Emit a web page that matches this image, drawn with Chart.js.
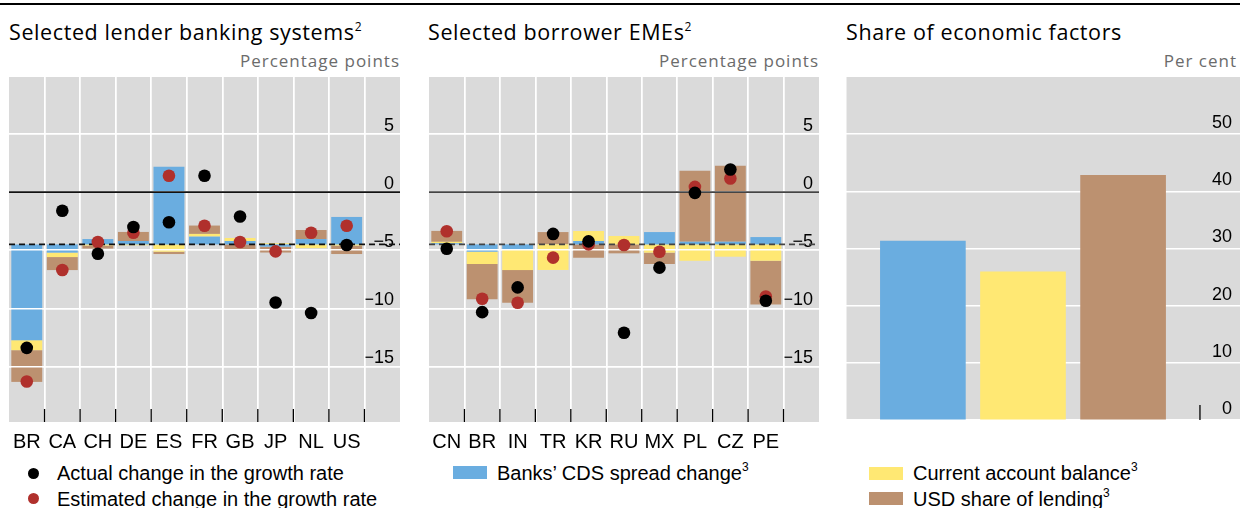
<!DOCTYPE html>
<html>
<head>
<meta charset="utf-8">
<script src="https://cdn.jsdelivr.net/npm/chart.js@4/dist/chart.umd.min.js"></script>
<style>
  body { margin: 0; width: 1240px; height: 508px; background: #fff; position: relative; overflow: hidden; font-family: "Liberation Sans", Arial, sans-serif; }
  .rule { position: absolute; left: 0; top: 2.5px; width: 1240px; height: 2px; background: #000; }
  .title { position: absolute; top: 20.8px; font: 21.5px/21.5px "Open Sans", sans-serif; letter-spacing: 0.6px; color: #000; white-space: nowrap; }
  .unit { position: absolute; top: 51.8px; font: 17px/17px "Open Sans", sans-serif; letter-spacing: 1px; color: #6b6b6b; white-space: nowrap; text-align: right; }
  sup { font-size: 12px; line-height: 0; vertical-align: 9px; letter-spacing: 0; }
  .leg { position: absolute; font-size: 20px; line-height: 20px; color: #000; white-space: nowrap; }
  .leg sup { font-size: 12px; vertical-align: 9px; }
  .dot { position: absolute; width: 11px; height: 11px; border-radius: 50%; }
  .box { position: absolute; width: 34px; height: 13px; }
  canvas { position: absolute; }
</style>
</head>
<body>
<div class="rule"></div>

<div class="title" style="left:9px">Selected lender banking systems<sup>2</sup></div>
<div class="title" style="left:428px">Selected borrower EMEs<sup>2</sup></div>
<div class="title" style="left:846px">Share of economic factors</div>
<div class="unit" style="right:840px">Percentage points</div>
<div class="unit" style="right:421px">Percentage points</div>
<div class="unit" style="right:3px">Per cent</div>

<canvas id="lenders" width="391" height="380" style="left:9px;top:77px"></canvas>
<canvas id="borrowers" width="390" height="380" style="left:429px;top:77px"></canvas>
<canvas id="shares" width="394" height="343" style="left:846px;top:77px"></canvas>

<div class="dot" style="left:27.5px;top:467.5px;background:#000"></div>
<div class="leg" style="left:57px;top:463.2px">Actual change in the growth rate</div>
<div class="dot" style="left:27.5px;top:493px;background:#b0302c"></div>
<div class="leg" style="left:57px;top:488.7px">Estimated change in the growth rate</div>

<div class="box" style="left:453px;top:466px;background:#6aade0"></div>
<div class="leg" style="left:497px;top:462.5px">Banks’ CDS spread change<sup>3</sup></div>

<div class="box" style="left:869px;top:466.5px;background:#ffe873"></div>
<div class="leg" style="left:913px;top:463.2px">Current account balance<sup>3</sup></div>
<div class="box" style="left:869px;top:492px;background:#bc9170"></div>
<div class="leg" style="left:913px;top:488.7px">USD share of lending<sup>3</sup></div>

<script>
// lender banking systems (percentage points)
const lenderCats = ['BR', 'CA', 'CH', 'DE', 'ES', 'FR', 'GB', 'JP', 'NL', 'US'];
const lenderCds = [-8.24, -0.71, 0.46, 0.29, 6.67, 0.67, 0.29, -0.2, 0.46, 2.36];
const lenderCa = [-0.86, -0.38, -0.1, -0.08, -0.63, 0.23, 0.26, 0.1, -0.32, -0.1];
const lenderUsd = [-2.73, -1.12, -0.26, 0.78, -0.2, 0.72, -0.4, -0.5, 0.78, -0.73];
const lenderActual = [-13.4, -1.6, -5.3, -3.0, -2.6, 1.4, -2.1, -9.5, -10.4, -4.55];
const lenderEstimated = [-16.3, -6.7, -4.3, -3.5, 1.4, -2.9, -4.3, -5.1, -3.5, -2.9];

// borrower EMEs (percentage points)
const borrowerCats = ['CN', 'BR', 'IN', 'TR', 'KR', 'RU', 'MX', 'PL', 'CZ', 'PE'];
const borrowerCds = [0.1, -0.63, -0.48, 0, 0.29, 0, 1.06, 0.23, 0.23, 0.63];
const borrowerCa = [0.12, -1.06, -1.73, -2.2, 0.86, 0.72, -0.71, -1.41, -1.06, -1.41];
const borrowerUsd = [0.94, -3.02, -2.82, 1.06, -1.15, -0.77, -0.98, 6.1, 6.53, -3.77];
const borrowerActual = [-4.87, -10.33, -8.2, -3.6, -4.24, -12.1, -6.5, -0.07, 1.94, -9.35];
const borrowerEstimated = [-3.37, -9.18, -9.52, -5.64, -4.5, -4.55, -5.13, 0.45, 1.17, -8.98];

// share of economic factors (per cent)
const factorNames = ['Banks’ CDS spread change', 'Current account balance', 'USD share of lending'];
const factorShares = [31.3, 25.9, 42.8];

// contributions are stacked from this level (dashed line)
const baseline = -4.5;

const BLUE = '#6aade0', YELLOW = '#ffe873', BROWN = '#bc9170', RED = '#b0302c', GREY = '#dadada';

Chart.defaults.font.family = '"Liberation Sans", Arial, sans-serif';

function floatingStacks(parts) {
    const n = parts[0].length;
    const up = new Array(n).fill(baseline);
    const down = new Array(n).fill(baseline);
    return parts.map(vals => vals.map((v, i) => {
        if (!v) return null;
        if (v > 0) { const r = [up[i], up[i] + v]; up[i] += v; return r; }
        const r = [down[i] + v, down[i]]; down[i] += v; return r;
    }));
}

function minusLabel(v) { return v < 0 ? '\u2212' + (-v) : String(v); }

const panelDecor = {
    id: 'panelDecor',
    beforeDraw(chart) {
        const { ctx, chartArea: a } = chart;
        ctx.save();
        ctx.fillStyle = GREY;
        ctx.fillRect(a.left, a.top, a.width, a.height);
        ctx.restore();
    },
    beforeDatasetDraw(chart, args, opts) {
        if (args.index !== 3) return;
        const { ctx, chartArea: a, scales: { x, y } } = chart;
        // grid sits over the bars but under the dots
        x.drawGrid(a);
        y.drawGrid(a);
        ctx.save();
        ctx.strokeStyle = opts.lineColor;
        ctx.lineWidth = 1.6;
        const y0 = y.getPixelForValue(0);
        ctx.beginPath(); ctx.moveTo(a.left, y0); ctx.lineTo(a.right, y0); ctx.stroke();
        const yb = y.getPixelForValue(baseline);
        ctx.setLineDash([6, 4]);
        ctx.beginPath(); ctx.moveTo(a.left, yb); ctx.lineTo(a.right, yb); ctx.stroke();
        ctx.setLineDash([]);
        ctx.strokeStyle = '#000';
        ctx.lineWidth = 1.3;
        for (let i = 0; i < x.ticks.length - 1; i++) {
            const px = (x.getPixelForValue(i) + x.getPixelForValue(i + 1)) / 2;
            ctx.beginPath(); ctx.moveTo(px, a.bottom - 13); ctx.lineTo(px, a.bottom); ctx.stroke();
        }
        ctx.restore();
    }
};

function growthChart(id, cats, cds, ca, usd, actual, estimated, lineColor) {
    const [cdsBars, caBars, usdBars] = floatingStacks([cds, ca, usd]);
    const bar = (label, data, color) => ({
        type: 'bar', label, data, backgroundColor: color, grouped: false,
        barPercentage: 0.87, categoryPercentage: 1, order: 2
    });
    const dots = (label, data, color, order) => ({
        type: 'line', label, data, showLine: false, pointRadius: 6.3, pointHoverRadius: 6.3,
        pointBackgroundColor: color, pointBorderWidth: 0, borderWidth: 0, order
    });
    return new Chart(document.getElementById(id), {
        type: 'bar',
        data: {
            labels: [...cats, ''],
            datasets: [
                bar(factorNames[0], cdsBars, BLUE),
                bar(factorNames[1], caBars, YELLOW),
                bar(factorNames[2], usdBars, BROWN),
                dots('Estimated change in the growth rate', estimated, RED, 1),
                dots('Actual change in the growth rate', actual, '#000', 0)
            ]
        },
        options: {
            responsive: false,
            animation: false,
            events: [],
            layout: { padding: 0, autoPadding: false },
            plugins: { legend: { display: false }, tooltip: { enabled: false }, panelDecor: { lineColor } },
            scales: {
                x: {
                    offset: true,
                    grid: { offset: true, color: c => c.index > 0 ? '#fff' : 'rgba(0,0,0,0)', lineWidth: 1.5, drawTicks: false },
                    border: { display: false },
                    ticks: { color: '#000', font: { size: 20 }, padding: 8, maxRotation: 0, autoSkip: false },
                    afterFit: s => { s.height = 35; s.paddingLeft = 0; s.paddingRight = 0; }
                },
                y: {
                    position: 'right',
                    min: -19.78,
                    max: 9.9,
                    grid: { color: '#fff', lineWidth: 1.5, drawTicks: false },
                    border: { display: false },
                    ticks: { stepSize: 5, includeBounds: false, mirror: true, padding: -6, labelOffset: -8, color: '#000', font: { size: 18 }, callback: minusLabel },
                    afterFit: s => { s.width = 0; s.paddingTop = 0; s.paddingBottom = 0; }
                }
            }
        },
        plugins: [panelDecor]
    });
}

growthChart('lenders', lenderCats, lenderCds, lenderCa, lenderUsd, lenderActual, lenderEstimated, '#111');
growthChart('borrowers', borrowerCats, borrowerCds, borrowerCa, borrowerUsd, borrowerActual, borrowerEstimated, '#444');

// third panel: three bars with margin either side and a label strip on the right
const slotPad = 0.768;
const labelRoom = 0.4;
const shareMax = 60;
const sharesDecor = {
    id: 'sharesDecor',
    beforeDraw(chart) {
        const { ctx, chartArea: a } = chart;
        ctx.save();
        ctx.fillStyle = GREY;
        ctx.fillRect(a.left, a.top, a.width, a.height);
        ctx.restore();
    },
    afterDraw(chart) {
        const { ctx, chartArea: a, scales: { x } } = chart;
        const px = x.getPixelForValue(factorShares.length - 1 + slotPad);
        ctx.save();
        ctx.strokeStyle = '#000';
        ctx.lineWidth = 1.3;
        ctx.beginPath(); ctx.moveTo(px, a.bottom - 15); ctx.lineTo(px, a.bottom); ctx.stroke();
        ctx.restore();
    }
};

new Chart(document.getElementById('shares'), {
    type: 'bar',
    data: {
        datasets: [{
            label: 'Share of economic factors',
            data: factorShares.map((v, i) => ({ x: i, y: v })),
            backgroundColor: [BLUE, YELLOW, BROWN],
            barThickness: 85
        }]
    },
    options: {
        responsive: false,
        animation: false,
        events: [],
        layout: { padding: 0, autoPadding: false },
        plugins: { legend: { display: false }, tooltip: { enabled: false } },
        scales: {
            x: {
                type: 'linear',
                offset: false,
                min: -slotPad,
                max: factorShares.length - 1 + slotPad + labelRoom,
                grid: { color: '#fff', lineWidth: 1.5, drawTicks: false },
                border: { display: false },
                ticks: { display: false },
                afterBuildTicks: s => { s.ticks = [{ value: factorShares.length - 1 + slotPad }]; },
                afterFit: s => { s.height = 0; s.paddingLeft = 0; s.paddingRight = 0; }
            },
            y: {
                position: 'right',
                min: 0,
                max: shareMax,
                grid: { color: c => c.tick && c.tick.value === shareMax ? 'rgba(0,0,0,0)' : '#fff', lineWidth: 1.5, drawTicks: false },
                border: { display: false },
                ticks: { stepSize: 10, mirror: true, padding: -8, labelOffset: -11, color: '#000', font: { size: 18 }, callback: v => v === shareMax ? '' : String(v) },
                afterFit: s => { s.width = 0; s.paddingTop = 0; s.paddingBottom = 0; }
            }
        }
    },
    plugins: [sharesDecor]
});
</script>
</body>
</html>
